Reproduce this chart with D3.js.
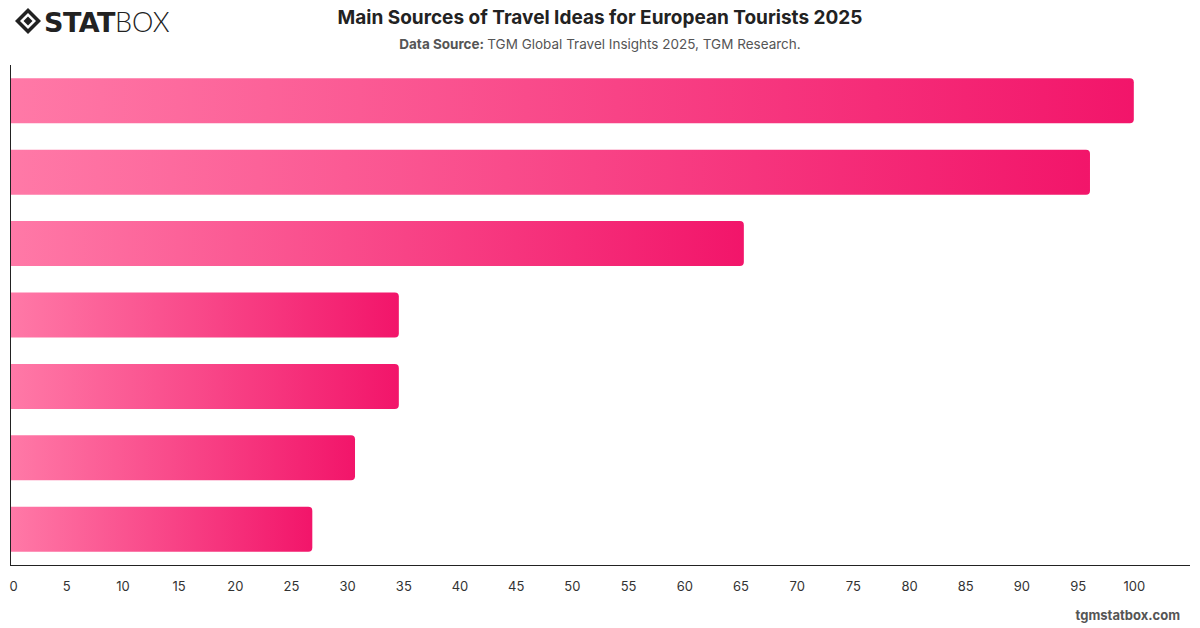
<!DOCTYPE html>
<html>
<head>
<meta charset="utf-8">
<script src="https://d3js.org/d3.v7.min.js"></script>
<style>
  body { margin: 0; background: #fff; font-family: Inter, "Noto Sans", sans-serif; }
</style>
</head>
<body>
<div id="chart"></div>
<script>
// sources (labels not shown in the chart), share of mentions
const categories = ["Source 1", "Source 2", "Source 3", "Source 4", "Source 5", "Source 6", "Source 7"];
const values = [100, 96.1, 65.3, 34.6, 34.6, 30.7, 26.9];
const tickValues = [0, 5, 10, 15, 20, 25, 30, 35, 40, 45, 50, 55, 60, 65, 70, 75, 80, 85, 90, 95, 100];

const W = 1200, H = 628;
const mLeft = 10, mRight = 1190, mTop = 65, mBottom = 565;

const svg = d3.select("#chart").append("svg")
  .attr("width", W).attr("height", H);

const defs = svg.append("defs");
const grad = defs.append("linearGradient")
  .attr("id", "barGrad")
  .attr("x1", "0%").attr("x2", "100%").attr("y1", "0%").attr("y2", "0%");
grad.append("stop").attr("offset", "0%").attr("stop-color", "#ff79a7");
grad.append("stop").attr("offset", "100%").attr("stop-color", "#f2156a");

const x = d3.scaleLinear().domain([0, 105]).range([mLeft, mRight]);
const y = d3.scaleBand().domain(categories).range([mTop, mBottom]).paddingInner(0.37).paddingOuter(0.185);

// bars: rounded at the right end only
const r = 4;
svg.append("g").selectAll("path")
  .data(values)
  .join("path")
  .attr("fill", "url(#barGrad)")
  .attr("d", (d, i) => {
    const x0 = x(0), x1 = x(d), y0 = y(categories[i]), h = y.bandwidth();
    return `M${x0},${y0}H${x1 - r}Q${x1},${y0} ${x1},${y0 + r}V${y0 + h - r}Q${x1},${y0 + h} ${x1 - r},${y0 + h}H${x0}Z`;
  });

// axes
svg.append("line").attr("x1", mLeft + 0.5).attr("x2", mLeft + 0.5).attr("y1", mTop).attr("y2", mBottom)
  .attr("stroke", "#222").attr("stroke-width", 1);
svg.append("line").attr("x1", mLeft).attr("x2", mRight).attr("y1", mBottom + 0.5).attr("y2", mBottom + 0.5)
  .attr("stroke", "#222").attr("stroke-width", 1);

const xAxis = d3.axisBottom(x).tickValues(tickValues).tickSize(0).tickPadding(0);
const gx = svg.append("g").attr("transform", `translate(0,${mBottom + 17})`).call(xAxis);
gx.select(".domain").remove();
gx.selectAll("text")
  .attr("font-family", "Inter, 'Noto Sans', sans-serif")
  .attr("font-size", 13)
  .attr("fill", "#333")
  .attr("dx", d => d === 0 ? 3 : 0);

// title
svg.append("text").attr("x", 600).attr("y", 24).attr("text-anchor", "middle")
  .attr("font-size", 19).attr("font-weight", 700).attr("fill", "#222")
  .text("Main Sources of Travel Ideas for European Tourists 2025");

const sub = svg.append("text").attr("x", 600).attr("y", 49).attr("text-anchor", "middle")
  .attr("font-size", 13.5).attr("fill", "#555");
sub.append("tspan").attr("font-weight", 700).text("Data Source: ");
sub.append("tspan").text("TGM Global Travel Insights 2025, TGM Research.");

// footer
svg.append("text").attr("x", 1180).attr("y", 620).attr("text-anchor", "end")
  .attr("font-size", 13).attr("font-weight", 700).attr("fill", "#555")
  .text("tgmstatbox.com");

// logo
const logo = svg.append("g").attr("transform", "translate(15,8)");
logo.append("path").attr("d", "M13,0 L26,13 L13,26 L0,13 Z").attr("fill", "#222");
logo.append("path").attr("d", "M13,5 L21,13 L13,21 L5,13 Z").attr("fill", "#fff");
logo.append("path").attr("d", "M13,8.5 L17.5,13 L13,17.5 L8.5,13 Z").attr("fill", "#222");
const lt = logo.append("text").attr("x", 29).attr("y", 24).attr("fill", "#222").attr("font-size", 27);
lt.append("tspan").attr("font-weight", 900).attr("font-family", "'DejaVu Sans', sans-serif").attr("letter-spacing", -0.5).text("STAT");
lt.append("tspan").attr("font-weight", 300).attr("font-family", "Lato, 'Open Sans', sans-serif").text("BOX");
</script>
</body>
</html>
